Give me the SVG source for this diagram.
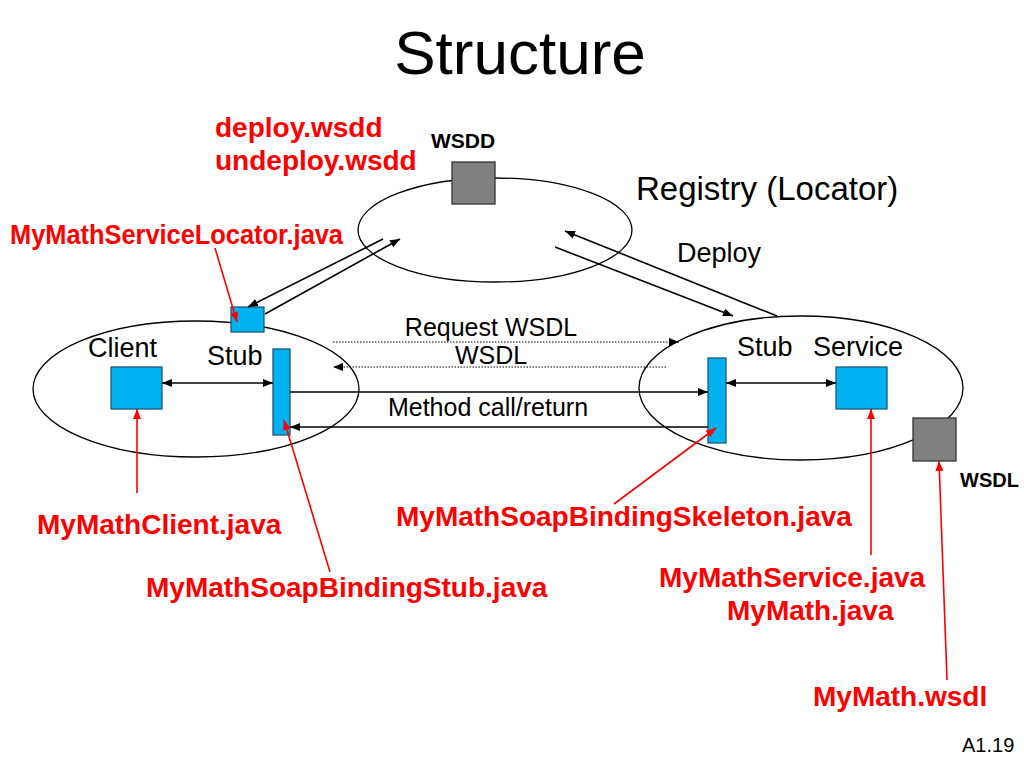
<svg xmlns="http://www.w3.org/2000/svg" width="1024" height="768" viewBox="0 0 1024 768">
<defs>
<style>
.t{font-family:"Liberation Sans",Arial,sans-serif;fill:#000}
.r{font-family:"Liberation Sans",Arial,sans-serif;font-weight:bold;fill:#ff0000;font-size:28px}
.b{font-family:"Liberation Sans",Arial,sans-serif;font-weight:bold;fill:#000}
.ell{fill:none;stroke:#000;stroke-width:1.3}
.blue{fill:#00b2f0;stroke:#1f5a78;stroke-width:1.3}
.gray{fill:#808080;stroke:#333;stroke-width:1.3}
.ln{stroke:#000;stroke-width:1.6;fill:none}
.dot{stroke:#000;stroke-width:1;stroke-dasharray:1.5 1.5;fill:none}
.red{stroke:#ff0000;stroke-width:1.6;fill:none}
</style>
<marker id="ah" viewBox="0 0 10 10" refX="10" refY="5" markerWidth="10" markerHeight="10" markerUnits="userSpaceOnUse" orient="auto-start-reverse"><path d="M0,1 L10,5 L0,9 z" fill="#000"/></marker>
<marker id="ar" viewBox="0 0 10 10" refX="10" refY="5" markerWidth="10" markerHeight="10" markerUnits="userSpaceOnUse" orient="auto"><path d="M0,1 L10,5 L0,9 z" fill="#ff0000"/></marker>
</defs>
<rect width="1024" height="768" fill="#fff"/>
<text class="t" x="520" y="74" font-size="62" text-anchor="middle">Structure</text>

<g id="registry">
<ellipse class="ell" cx="495" cy="230" rx="137" ry="52"/>
<text class="t" x="636" y="200" font-size="33">Registry (Locator)</text>
</g>
<g id="wsdd">
<rect class="gray" x="452" y="162" width="43" height="42"/>
<text class="b" x="463" y="148" font-size="21" text-anchor="middle">WSDD</text>
</g>
<g id="client-side">
<ellipse class="ell" cx="196" cy="389" rx="163" ry="68"/>
<text class="t" x="88" y="357" font-size="27">Client</text>
<text class="t" x="207" y="365" font-size="27">Stub</text>
</g>
<g id="client"><rect class="blue" x="111" y="367" width="51" height="42"/></g>
<g id="client-stub"><rect class="blue" x="273" y="349" width="17" height="86"/></g>
<g id="locator"><rect class="blue" x="231" y="307" width="33" height="25"/></g>
<g id="service-side">
<ellipse class="ell" cx="801" cy="388" rx="162" ry="72"/>
<text class="t" x="737" y="356" font-size="27">Stub</text>
<text class="t" x="813" y="356" font-size="27">Service</text>
</g>
<g id="skeleton"><rect class="blue" x="708" y="358" width="18" height="85"/></g>
<g id="service"><rect class="blue" x="836" y="367" width="51" height="42"/></g>
<g id="wsdl">
<rect class="gray" x="913" y="418" width="43" height="43"/>
<text class="b" x="960" y="487" font-size="20">WSDL</text>
</g>

<g id="connectors">
<line class="ln" x1="383" y1="239" x2="248" y2="307" marker-end="url(#ah)"/>
<line class="ln" x1="265" y1="314" x2="400" y2="239" marker-end="url(#ah)"/>
<line class="ln" x1="777" y1="316" x2="565" y2="231" marker-end="url(#ah)"/>
<line class="ln" x1="555" y1="247" x2="733" y2="316" marker-end="url(#ah)"/>
<line class="ln" x1="162" y1="383" x2="273" y2="383" marker-start="url(#ah)" marker-end="url(#ah)"/>
<line class="ln" x1="726" y1="383" x2="836" y2="383" marker-start="url(#ah)" marker-end="url(#ah)"/>
<line class="dot" x1="333" y1="342" x2="679" y2="342" marker-end="url(#ah)"/>
<line class="dot" x1="666" y1="367" x2="333" y2="367" marker-end="url(#ah)"/>
<line class="ln" x1="290" y1="392" x2="708" y2="392" marker-end="url(#ah)"/>
<line class="ln" x1="708" y1="427" x2="290" y2="427" marker-end="url(#ah)"/>
<line class="red" x1="215" y1="248" x2="237" y2="322" marker-end="url(#ar)"/>
<line class="red" x1="137" y1="493" x2="137" y2="409" marker-end="url(#ar)"/>
<line class="red" x1="330" y1="572" x2="284" y2="420" marker-end="url(#ar)"/>
<line class="red" x1="614" y1="504" x2="716" y2="428" marker-end="url(#ar)"/>
<line class="red" x1="871" y1="555" x2="871" y2="409" marker-end="url(#ar)"/>
<line class="red" x1="947" y1="680" x2="939" y2="461" marker-end="url(#ar)"/>
</g>

<g id="labels">
<text class="t" x="491" y="336" font-size="25" text-anchor="middle">Request WSDL</text>
<text class="t" x="491" y="364" font-size="25" text-anchor="middle">WSDL</text>
<text class="t" x="488" y="416" font-size="25" text-anchor="middle">Method call/return</text>
<text class="t" x="677" y="262" font-size="27">Deploy</text>
<text class="r" x="215" y="137">deploy.wsdd</text>
<text class="r" x="215" y="170">undeploy.wsdd</text>
<text class="r" x="10" y="244" font-size="25" textLength="333" lengthAdjust="spacingAndGlyphs">MyMathServiceLocator.java</text>
<text class="r" x="37" y="534">MyMathClient.java</text>
<text class="r" x="146" y="597">MyMathSoapBindingStub.java</text>
<text class="r" x="396" y="526">MyMathSoapBindingSkeleton.java</text>
<text class="r" x="659" y="587">MyMathService.java</text>
<text class="r" x="727" y="620">MyMath.java</text>
<text class="r" x="813" y="706">MyMath.wsdl</text>
<text class="t" x="962" y="752" font-size="20">A1.19</text>
</g>
</svg>
